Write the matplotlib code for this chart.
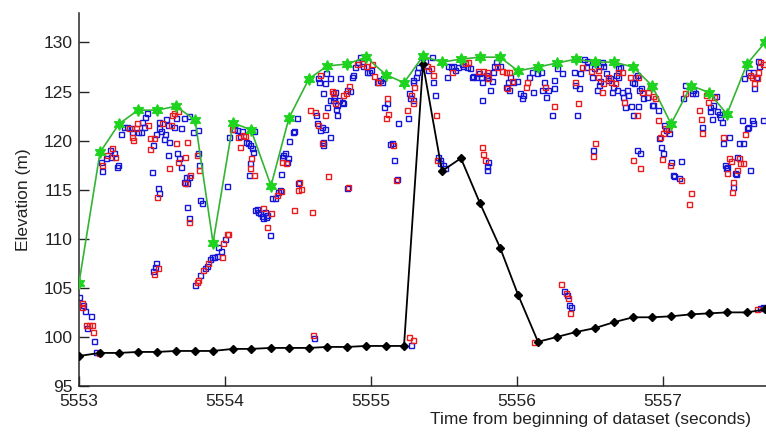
import matplotlib
matplotlib.use("Agg")
import matplotlib.pyplot as plt

plt.rcParams['font.family'] = ['Liberation Sans', 'DejaVu Sans']

# Track samples (seconds from start of dataset)
track_t = [5553.000, 5553.144, 5553.274, 5553.404, 5553.534, 5553.664, 5553.795, 5553.918,
           5554.055, 5554.178, 5554.315, 5554.438, 5554.575, 5554.699, 5554.836, 5554.966,
           5555.103, 5555.226, 5555.356, 5555.486, 5555.616, 5555.747, 5555.884, 5556.007,
           5556.144, 5556.274, 5556.404, 5556.534, 5556.664, 5556.795, 5556.925, 5557.055,
           5557.192, 5557.315, 5557.438, 5557.575, 5557.699]
# Upper envelope (green) and ground estimate (black)
top_elev = [105.5, 118.8, 121.7, 123.1, 123.1, 123.5, 122.1, 109.6,
            121.8, 121.1, 115.4, 122.3, 126.3, 127.6, 127.8, 128.5,
            126.7, 125.9, 128.6, 128.0, 128.3, 128.5, 128.5, 127.1,
            127.5, 127.9, 128.3, 128.0, 128.0, 127.5, 125.6, 121.7,
            125.6, 124.9, 122.7, 127.8, 130.0]
ground_elev = [98.06, 98.37, 98.37, 98.47, 98.47, 98.57, 98.57, 98.57,
               98.78, 98.78, 98.88, 98.88, 98.88, 98.98, 98.98, 99.08,
               99.08, 99.08, 127.8, 116.9, 118.2, 113.6, 109.1, 104.3,
               99.5, 100.0, 100.5, 100.9, 101.5, 102.0, 102.0, 102.1,
               102.3, 102.4, 102.5, 102.5, 102.8]

# Photon returns, channel 1 (blue)
blue_t = [5553.000, 5553.027, 5553.041, 5553.082, 5553.055, 5553.103, 5553.116,
          5553.151, 5553.158, 5553.185, 5553.212, 5553.219, 5553.240, 5553.260, 5553.267,
          5553.288, 5553.308, 5553.329, 5553.356, 5553.363, 5553.404, 5553.425, 5553.432,
          5553.445, 5553.452, 5553.466, 5553.507, 5553.527, 5553.548, 5553.548, 5553.562,
          5553.582, 5553.589, 5553.596, 5553.616, 5553.610, 5553.651, 5553.664, 5553.671,
          5553.685, 5553.699, 5553.699, 5553.733, 5553.719, 5553.740, 5553.753, 5553.740,
          5553.753, 5553.781, 5553.719, 5553.753, 5553.500, 5553.527, 5553.521, 5553.507,
          5553.541, 5553.548, 5553.610,
          5553.815, 5553.815, 5553.822, 5553.829, 5553.842, 5553.795, 5553.829, 5553.863,
          5553.877, 5553.897, 5553.911, 5553.925, 5553.945, 5553.952, 5553.973, 5554.000,
          5554.014, 5554.027, 5554.062, 5554.082, 5554.103, 5554.116, 5554.144, 5554.158,
          5554.171, 5554.185, 5554.192, 5554.171, 5554.164, 5554.199, 5554.205, 5554.219,
          5554.226, 5554.240, 5554.253, 5554.274, 5554.288, 5554.281, 5554.260, 5554.308,
          5554.322, 5554.342, 5554.363, 5554.377, 5554.384, 5554.397, 5554.411, 5554.425,
          5554.432, 5554.390, 5554.438, 5554.466, 5554.473, 5554.493, 5554.500,
          5554.637, 5554.644, 5554.685, 5554.692, 5554.719, 5554.788, 5554.671, 5554.747,
          5554.753, 5554.740, 5554.719, 5554.767, 5554.760, 5554.781, 5554.801, 5554.808,
          5554.836, 5554.856, 5554.767, 5554.623, 5554.630, 5554.651, 5554.664, 5554.685,
          5554.699, 5554.671, 5554.671, 5554.719, 5554.836, 5554.870, 5554.877, 5554.890,
          5554.911, 5554.925, 5554.945, 5554.973, 5554.986, 5555.000, 5555.041, 5555.062,
          5555.075, 5555.082, 5555.110, 5555.089, 5555.185, 5555.260, 5555.267, 5555.288,
          5555.253, 5555.130, 5555.144, 5555.158, 5555.178, 5555.288, 5555.308, 5555.288,
          5555.322, 5555.315, 5555.370, 5555.390, 5554.610, 5555.274,
          5555.349, 5555.418, 5555.425, 5555.438, 5555.527, 5555.548, 5555.521, 5555.562,
          5555.575, 5555.596, 5555.623, 5555.630, 5555.658, 5555.678, 5555.692, 5555.699,
          5555.719, 5555.740, 5555.753, 5555.760, 5555.788, 5555.795, 5555.815, 5555.760,
          5555.829, 5555.836, 5555.842, 5555.856, 5555.884, 5555.952, 5555.973, 5555.938,
          5555.925, 5555.945, 5556.000, 5556.021, 5556.034, 5556.041, 5556.082, 5556.103,
          5556.110, 5555.459, 5555.473, 5555.473, 5555.493, 5555.507, 5555.801, 5555.795,
          5555.795,
          5556.137, 5556.164, 5556.185, 5556.171, 5556.212, 5556.199, 5556.253, 5556.253,
          5556.308, 5556.240, 5556.274, 5556.390, 5556.397, 5556.425, 5556.411, 5556.432,
          5556.473, 5556.459, 5556.479, 5556.514, 5556.527, 5556.568, 5556.582, 5556.589,
          5556.568, 5556.562, 5556.548, 5556.610, 5556.623, 5556.637, 5556.651, 5556.658,
          5556.692, 5556.705, 5556.692, 5556.685, 5556.719, 5556.726, 5556.740, 5556.753,
          5556.760, 5556.781, 5556.788, 5556.808, 5556.822, 5556.801, 5556.829, 5556.795,
          5556.836, 5556.849, 5556.863, 5556.890, 5556.925, 5556.521, 5556.822, 5556.842,
          5556.322, 5556.342, 5556.356, 5556.370, 5556.678,
          5556.932, 5556.966, 5557.007, 5557.021, 5557.041, 5556.973, 5556.986, 5557.000,
          5557.055, 5557.123, 5557.068, 5557.075, 5557.110, 5557.137, 5557.151, 5557.199,
          5557.205, 5557.219, 5557.267, 5557.322, 5557.322, 5557.336, 5557.342, 5557.363,
          5557.370, 5557.384, 5557.390, 5557.404, 5557.411, 5557.425, 5557.432, 5557.438,
          5557.452, 5557.479, 5557.493, 5557.500, 5557.507, 5557.521, 5557.548, 5557.575,
          5557.582, 5557.596, 5557.610, 5557.616, 5557.541, 5557.555, 5557.582, 5557.616,
          5557.637, 5557.623, 5557.651, 5557.658, 5557.685, 5557.664, 5557.685]
blue_elev = [104.08, 103.27, 102.65, 102.14, 100.92, 99.59, 98.47,
             117.86, 116.94, 118.27, 119.08, 118.37, 118.78, 117.35, 117.55,
             120.71, 121.43, 121.43, 121.33, 120.92, 120.92, 120.92, 121.94,
             121.43, 122.45, 122.86, 119.59, 120.71, 121.94, 121.33, 121.02,
             120.20, 120.71, 122.24, 119.90, 118.57, 121.43, 122.35, 118.78,
             118.27, 117.35, 121.33, 116.33, 115.82, 115.71, 116.33, 113.27,
             112.14, 120.92, 122.35, 122.55, 116.84, 107.55, 107.14, 106.73,
             115.20, 114.69, 121.63,
             121.12, 118.78, 117.55, 113.98, 113.67, 105.31, 106.33, 107.04,
             107.24, 107.96, 108.16, 108.16, 108.27, 109.18, 108.78, 110.00,
             115.41, 120.41, 121.22, 121.12, 120.51, 121.02, 119.90, 119.80,
             119.59, 119.29, 118.88, 117.76, 116.53, 121.02, 112.96, 113.06,
             112.76, 112.65, 112.35, 112.76, 112.45, 112.24, 112.14, 110.41,
             114.18, 114.18, 114.80, 115.00, 116.63, 118.57, 118.78, 117.86,
             118.27, 118.37, 120.00, 120.92, 121.02, 122.35, 115.71,
             126.33, 125.92, 125.82, 126.84, 126.33, 126.33, 124.90, 124.49,
             125.00, 124.18, 124.18, 123.67, 123.27, 124.18, 123.98, 123.88,
             125.20, 125.10, 122.65, 122.65, 121.84, 121.12, 121.43, 121.22,
             123.47, 119.90, 119.59, 120.41, 115.20, 126.43, 126.73, 127.45,
             127.96, 128.47, 127.65, 127.04, 126.94, 127.24, 126.02, 126.22,
             126.02, 126.33, 123.88, 123.47, 121.84, 124.90, 124.29, 124.18,
             122.35, 119.69, 119.80, 118.06, 116.12, 126.22, 126.53, 125.92,
             127.45, 127.04, 128.06, 127.24, 99.90, 99.18,
             128.47, 128.47, 125.92, 124.69, 127.65, 127.45, 126.53, 127.65,
             127.24, 127.45, 127.76, 127.55, 127.45, 127.35, 126.53, 126.63,
             126.53, 126.84, 126.43, 126.02, 126.73, 126.43, 125.20, 124.18,
             126.12, 126.94, 127.55, 127.96, 127.65, 126.43, 126.02, 125.92,
             125.51, 125.20, 126.12, 124.90, 124.39, 124.69, 126.53, 126.94,
             125.00, 118.37, 118.06, 117.76, 117.55, 117.24, 117.86, 117.45,
             117.04,
             126.84, 127.04, 126.02, 125.20, 125.20, 124.49, 126.22, 125.31,
             126.84, 122.65, 127.35, 127.04, 125.71, 125.31, 122.65, 126.84,
             127.45, 128.27, 128.06, 126.53, 127.35, 127.65, 127.96, 127.65,
             126.12, 125.71, 125.20, 126.84, 126.22, 126.33, 125.00, 125.51,
             127.35, 127.45, 126.43, 125.20, 125.00, 124.49, 123.47, 125.20,
             124.69, 123.57, 126.02, 126.53, 126.73, 125.82, 123.57, 122.65,
             125.20, 125.41, 124.29, 124.49, 123.67, 119.08, 119.08, 118.78,
             104.69, 104.29, 103.27, 103.06, 126.73,
             123.67, 123.16, 121.63, 121.12, 120.82, 120.31, 119.39, 118.78,
             117.86, 117.96, 116.53, 116.43, 116.22, 124.39, 125.71, 124.90,
             125.20, 124.90, 121.43, 123.47, 123.06, 122.24, 123.67, 124.59,
             123.06, 122.76, 122.45, 121.94, 119.80, 117.55, 117.24, 117.35,
             120.41, 115.31, 116.73, 116.63, 118.37, 119.80, 119.80, 121.33,
             121.43, 117.04, 122.14, 121.84, 122.14, 126.33, 126.94, 126.94,
             126.53, 125.31, 128.06, 127.55, 122.14, 102.96, 103.06]

# Photon returns, channel 2 (red)
red_t = [5553.021, 5553.021, 5553.048, 5553.068, 5553.089, 5553.096, 5553.137,
         5553.158, 5553.192, 5553.226, 5553.247, 5553.342, 5553.363, 5553.370, 5553.390,
         5553.397, 5553.473, 5553.486, 5553.486, 5553.514, 5553.568, 5553.616, 5553.630,
         5553.637, 5553.651, 5553.678, 5553.664, 5553.678, 5553.726, 5553.726, 5553.760,
         5553.753, 5553.740, 5553.541, 5553.514, 5553.534,
         5553.808, 5553.822, 5553.808, 5553.815, 5553.849, 5553.884, 5553.979, 5553.986,
         5554.014, 5554.021, 5554.048, 5554.089, 5554.103, 5554.123, 5554.137, 5554.178,
         5554.171, 5554.199, 5554.260, 5554.315, 5554.288, 5554.356, 5554.384, 5554.418,
         5554.390, 5554.473, 5554.500, 5554.507, 5554.521, 5554.596,
         5554.651, 5554.733, 5554.740, 5554.753, 5554.808, 5554.829, 5554.849, 5554.616,
         5554.582, 5554.637, 5554.685, 5554.664, 5554.705, 5554.842, 5554.904, 5554.938,
         5554.966, 5555.007, 5555.021, 5555.048, 5555.110, 5555.116, 5555.103, 5555.274,
         5555.288, 5555.247, 5555.151, 5555.171, 5555.295, 5555.384, 5554.603, 5555.260,
         5555.288,
         5555.411, 5555.425, 5555.445, 5555.555, 5555.644, 5555.664, 5555.733, 5555.767,
         5555.801, 5555.795, 5555.863, 5555.897, 5555.925, 5555.945, 5555.966, 5555.932,
         5556.062, 5556.068, 5555.452, 5555.760, 5555.767, 5555.781,
         5556.192, 5556.253, 5556.397, 5556.418, 5556.445, 5556.507, 5556.555, 5556.555,
         5556.582, 5556.589, 5556.623, 5556.644, 5556.671, 5556.692, 5556.719, 5556.733,
         5556.774, 5556.829, 5556.822, 5556.856, 5556.897, 5556.911, 5556.534, 5556.521,
         5556.795, 5556.842, 5556.301, 5556.336, 5556.349, 5556.363, 5556.116,
         5556.932, 5556.945, 5556.966, 5557.014, 5557.000, 5557.034, 5556.979, 5556.993,
         5557.048, 5557.123, 5557.192, 5557.178, 5557.151, 5557.247, 5557.260, 5557.267,
         5557.295, 5557.308, 5557.349, 5557.411, 5557.438, 5557.452, 5557.466, 5557.479,
         5557.473, 5557.507, 5557.521, 5557.527, 5557.548, 5557.562, 5557.596, 5557.610,
         5557.644, 5557.651, 5557.623, 5557.664, 5557.685, 5557.644]
red_elev = [103.47, 103.06, 101.22, 101.22, 101.22, 100.51, 98.37,
            117.55, 118.57, 119.29, 118.37, 121.33, 120.41, 120.10, 121.33,
            121.84, 121.63, 120.31, 119.18, 120.31, 121.84, 117.24, 121.63,
            122.65, 122.86, 123.06, 119.80, 117.86, 118.37, 115.71, 116.53,
            111.73, 119.90, 107.04, 106.43, 114.29,
            118.57, 117.04, 105.61, 105.82, 106.84, 107.55, 108.16, 109.59,
            110.51, 110.51, 121.22, 120.41, 119.39, 120.61, 120.51, 118.27,
            117.24, 116.53, 113.16, 112.65, 111.22, 114.49, 114.90, 117.76,
            117.86, 112.96, 115.00, 115.82, 115.10, 112.76,
            126.73, 125.10, 124.90, 123.88, 124.69, 124.90, 125.61, 122.96,
            123.16, 121.63, 122.65, 119.80, 116.43, 115.31, 127.76, 127.86,
            127.55, 127.76, 126.63, 125.92, 124.39, 122.76, 122.35, 124.69,
            123.88, 123.16, 119.59, 116.02, 125.51, 127.55, 100.20, 100.00,
            99.69,
            127.35, 126.73, 122.65, 126.94, 127.86, 127.96, 127.14, 127.14,
            126.33, 127.04, 127.45, 127.14, 127.04, 127.04, 126.12, 125.41,
            125.51, 126.02, 118.06, 119.39, 118.67, 118.06,
            125.51, 123.57, 126.02, 123.88, 127.45, 127.14, 127.24, 126.43,
            125.00, 125.82, 126.53, 126.02, 125.82, 127.04, 127.04, 123.98,
            126.43, 126.43, 122.65, 125.00, 125.00, 125.51, 119.80, 118.47,
            118.06, 117.24, 105.41, 104.49, 103.98, 102.45, 99.49,
            124.59, 124.29, 122.14, 121.33, 120.82, 121.22, 120.41, 118.16,
            117.55, 116.02, 114.69, 113.57, 124.90, 123.16, 122.24, 120.82,
            124.69, 123.98, 124.49, 120.41, 116.73, 118.27, 117.96, 115.82,
            114.80, 117.04, 118.27, 117.76, 117.76, 120.71, 126.73, 126.53,
            126.33, 126.94, 125.82, 127.96, 127.76, 102.86]

x_ticks = [5553, 5554, 5555, 5556, 5557]
y_ticks = [95, 100, 105, 110, 115, 120, 125, 130]

fig = plt.figure(figsize=(7.66, 4.33), dpi=100)
# The axes run on past the right edge of the canvas
ax = fig.add_axes([79 / 766, 47 / 433, 1022 / 766, 373 / 433])

ax.plot(blue_t, blue_elev, 's', ls='none', mfc='none', mec='#1515d8',
        ms=3.6, mew=1.0, zorder=2)
ax.plot(red_t, red_elev, 's', ls='none', mfc='none', mec='#e81c1c',
        ms=3.6, mew=1.0, zorder=2)
ax.plot(track_t, ground_elev, '-', color='black', lw=1.3, marker='D',
        ms=3.6, mfc='black', mec='black', zorder=3)
ax.plot(track_t, top_elev, '-', color='#33b533', lw=1.2, marker=(6, 1, 0),
        ms=8.5, mfc='#1ed41e', mec='#1ed41e', zorder=4)

ax.set_xlim(5553, 5560)
ax.set_ylim(95, 133)
ax.set_xticks(x_ticks)
ax.set_yticks(y_ticks)
ax.set_xticklabels([str(v) for v in x_ticks])
ax.set_yticklabels([str(v) for v in y_ticks])

for side in ('top', 'right'):
    ax.spines[side].set_visible(False)
for side in ('left', 'bottom'):
    ax.spines[side].set_color('#262626')
    ax.spines[side].set_linewidth(1.1)

ax.tick_params(direction='in', length=7, width=1.0, colors='#262626',
               labelsize=12.5, labelcolor='#222222')
ax.tick_params(axis='x', pad=6)
ax.tick_params(axis='y', pad=4.5)

ax.set_xlabel('Time from beginning of dataset (seconds)', fontsize=12.5,
              color='#222222', labelpad=2)
ax.set_ylabel('Elevation (m)', fontsize=12.5, color='#222222', labelpad=9)

fig.savefig('out.png', dpi=100)
